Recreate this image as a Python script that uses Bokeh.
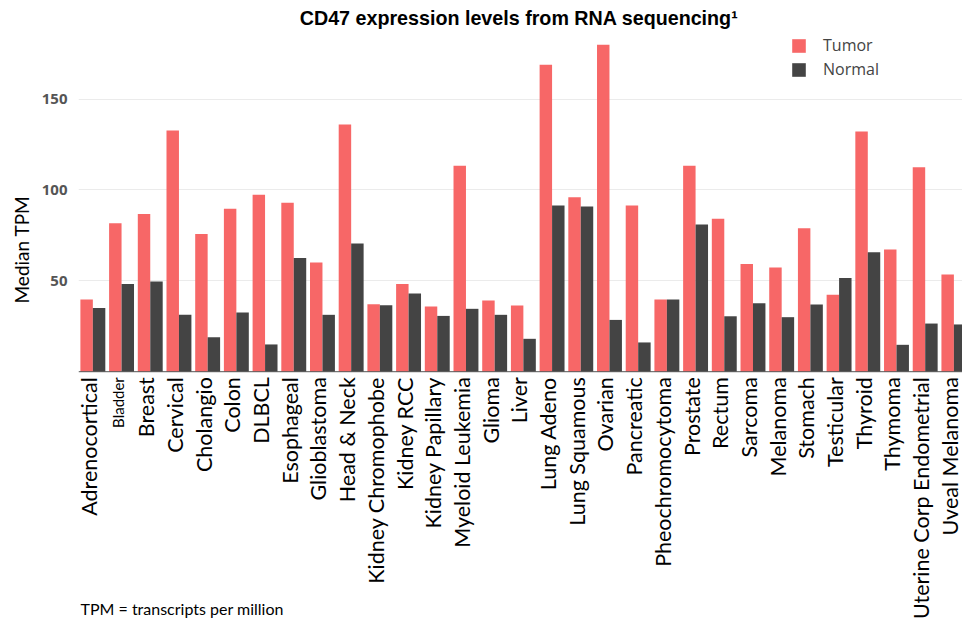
import numpy as np
from math import pi
from bokeh.plotting import figure
from bokeh.models import ColumnDataSource, Range1d, FixedTicker, Label, Span, Legend, LegendItem, Title
from bokeh.transform import dodge
from bokeh.core.properties import value
from bokeh.embed import file_html
from bokeh.resources import INLINE

categories = ["Adrenocortical", "Bladder", "Breast", "Cervical", "Cholangio", "Colon", "DLBCL",
              "Esophageal", "Glioblastoma", "Head & Neck", "Kidney Chromophobe", "Kidney RCC",
              "Kidney Papillary", "Myeloid Leukemia", "Glioma", "Liver", "Lung Adeno",
              "Lung Squamous", "Ovarian", "Pancreatic", "Pheochromocytoma", "Prostate", "Rectum",
              "Sarcoma", "Melanoma", "Stomach", "Testicular", "Thyroid", "Thymoma",
              "Uterine Corp Endometrial", "Uveal Melanoma"]
tumor = [39.7, 81.7, 86.8, 132.7, 75.8, 89.6, 97.3, 92.9, 60.1, 136.0, 37.1, 48.3, 35.9, 113.3,
         39.2, 36.4, 168.8, 96.0, 179.8, 91.4, 39.7, 113.3, 84.1, 59.3, 57.3, 78.9, 42.3, 132.1,
         67.2, 112.5, 53.5]
normal = [35.1, 48.3, 49.6, 31.3, 19.0, 32.6, 15.0, 62.6, 31.3, 70.5, 36.6, 43.0, 30.7, 34.6,
          31.3, 18.1, 91.4, 90.9, 28.5, 16.1, 39.7, 81.0, 30.5, 37.7, 30.0, 37.0, 51.6, 65.7,
          14.8, 26.5, 26.0]
y_ticks = [50, 100, 150]
series_names = ["Tumor", "Normal"]
title_text = "CD47 expression levels from RNA sequencing\u00b9"
y_label = "Median TPM"
footnote = "TPM = transcripts per million"

TUMOR_COLOR = "#F76767"
NORMAL_COLOR = "#444444"
BAR_W = 0.434

idx = np.arange(len(categories))
sizes = ["15px" if c == "Bladder" else "21.5px" for c in categories]
src = ColumnDataSource(dict(idx=idx, cat=categories, tumor=tumor, normal=normal, size=sizes))

# frame spans x 78..962 and y 0..619 of the canvas; zero line at y=371.2, 1.818 px per unit
p = figure(width=962, height=619, output_backend="svg", toolbar_location=None,
           x_range=Range1d(-0.5, 30.3), y_range=Range1d(-136.3, 204.2),
           x_axis_location=None, min_border_left=78, min_border_right=0,
           min_border_top=0, min_border_bottom=0, outline_line_color=None)

rt = p.vbar(x=dodge("idx", -BAR_W / 2), top="tumor", width=BAR_W, source=src,
            fill_color=TUMOR_COLOR, line_color=None)
rn = p.vbar(x=dodge("idx", BAR_W / 2), top="normal", width=BAR_W, source=src,
            fill_color=NORMAL_COLOR, line_color=None)

p.text(x=dodge("idx", -0.14), y=-3, text="cat", angle=pi / 2, text_align="right",
       text_baseline="middle", text_font=value("Lato"), text_font_size="size",
       text_color="black", source=src)

p.add_layout(Span(location=0, dimension="width", line_color="#555555", line_width=1))

yax = p.yaxis[0]
yax.ticker = FixedTicker(ticks=y_ticks)
yax.axis_line_color = None
yax.major_tick_line_color = None
yax.minor_tick_line_color = None
yax.major_label_text_font = "Open Sans"
yax.major_label_text_font_style = "bold"
yax.major_label_text_font_size = "15px"
yax.major_label_text_color = "#555555"
yax.major_label_standoff = 5
p.xgrid.grid_line_color = None
p.ygrid.grid_line_color = "#EBEBEB"
p.ygrid.ticker = FixedTicker(ticks=y_ticks)

legend = Legend(items=[LegendItem(label=series_names[0], renderers=[rt]),
                       LegendItem(label=series_names[1], renderers=[rn])],
                location=(712, 539), orientation="vertical",
                glyph_width=17, glyph_height=17, label_height=17, spacing=2,
                label_standoff=16, padding=0, margin=0, border_line_color=None,
                background_fill_alpha=0, label_text_font="Open Sans",
                label_text_font_size="16px", label_text_color="#444444")
p.add_layout(legend)

p.add_layout(Label(x=14.85, y=194.3, text=title_text,
                   text_align="center", text_baseline="middle", text_font="Liberation Sans",
                   text_font_style="bold", text_font_size="19.7px", text_color="black"))

p.add_layout(Title(text=y_label, align="left", offset=316, standoff=11,
                   text_font="Lato", text_font_size="19px", text_font_style="normal",
                   text_color="black"), "left")

p.add_layout(Label(x=2, y=2, x_units="screen", y_units="screen", text=footnote,
                   text_align="left", text_baseline="bottom",
                   text_font="Lato", text_font_size="16px", text_color="black"))

open("out.html", "w").write(file_html(p, INLINE))
